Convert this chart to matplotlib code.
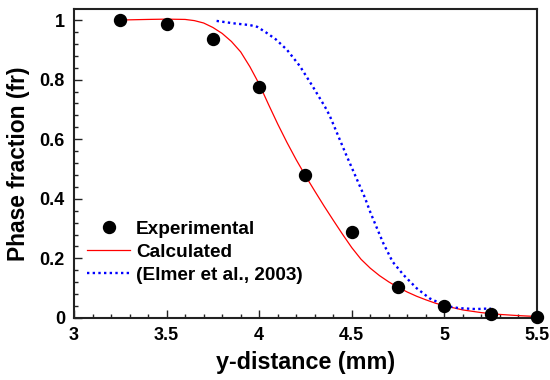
import matplotlib
matplotlib.use("Agg")
import matplotlib.pyplot as plt
from matplotlib.ticker import MultipleLocator, FormatStrFormatter

plt.rcParams['font.family'] = ['Liberation Sans', 'DejaVu Sans']
plt.rcParams['font.weight'] = 'bold'

# Experimental points
exp_x = [3.25, 3.5, 3.75, 4.0, 4.25, 4.5, 4.75, 5.0, 5.25, 5.5]
exp_y = [1.0, 0.987, 0.936, 0.776, 0.481, 0.288, 0.104, 0.040, 0.013, 0.003]

# Calculated curve
calc_x = [3.25, 3.4, 3.5, 3.6, 3.65, 3.7, 3.75, 3.8, 3.85, 3.9, 3.95, 4.0, 4.05,
          4.1, 4.15, 4.2, 4.25, 4.3, 4.35, 4.4, 4.45, 4.5, 4.55, 4.6, 4.65, 4.7,
          4.75, 4.8, 4.85, 4.9, 4.95, 5.0, 5.1, 5.2, 5.3, 5.4, 5.5]
calc_y = [1.0, 1.002, 1.003, 1.002, 0.998, 0.99, 0.975, 0.955, 0.928, 0.893, 0.843,
          0.785, 0.717, 0.651, 0.589, 0.531, 0.477, 0.426, 0.376, 0.328, 0.281,
          0.236, 0.197, 0.167, 0.142, 0.121, 0.103, 0.087, 0.073, 0.061, 0.05, 0.041,
          0.027, 0.018, 0.012, 0.008, 0.005]

# Elmer et al., 2003
elmer_x = [3.77, 3.86, 3.95, 3.99, 4.04, 4.09, 4.15, 4.22, 4.29, 4.355, 4.38,
           4.47, 4.57, 4.6, 4.63, 4.67, 4.72, 4.78, 4.85, 4.92, 5.01, 5.08,
           5.17, 5.25]
elmer_y = [0.997, 0.989, 0.983, 0.977, 0.957, 0.935, 0.90, 0.845, 0.776, 0.709,
           0.68, 0.547, 0.405, 0.355, 0.31, 0.251, 0.189, 0.144, 0.100, 0.066,
           0.040, 0.033, 0.030, 0.032]

x_ticks = [3, 3.5, 4, 4.5, 5, 5.5]
y_ticks = [0, 0.2, 0.4, 0.6, 0.8, 1]

fig = plt.figure(figsize=(5.5, 3.8), dpi=100)
ax = fig.add_axes([74/550, 62/380, 463/550, 309/380])

ax.plot(calc_x, calc_y, color='red', lw=0.9, label='Calculated', zorder=3)
ax.plot(elmer_x, elmer_y, color='blue', lw=1.7, linestyle=(0, (1, 1.4)),
        dash_capstyle='butt', label='(Elmer et al., 2003)', zorder=3)
ax.plot(exp_x, exp_y, 'o', color='black', ms=8.6, label='Experimental',
        clip_on=False, zorder=4)

ax.set_xlim(3, 5.5)
ax.set_ylim(0, 1.037)
ax.set_xticks(x_ticks)
ax.set_yticks(y_ticks)
ax.xaxis.set_major_formatter(FormatStrFormatter('%g'))
ax.yaxis.set_major_formatter(FormatStrFormatter('%g'))
ax.xaxis.set_minor_locator(MultipleLocator(0.1))
ax.yaxis.set_minor_locator(MultipleLocator(0.04))
ax.tick_params(which='both', direction='in', top=False, right=False,
               width=1.0, color='#222')
ax.tick_params(which='major', length=5.8, labelsize=13, pad=6.5)
ax.tick_params(which='minor', length=2.9)
for lab in ax.get_xticklabels() + ax.get_yticklabels():
    lab.set_fontweight('bold')

for s in ax.spines.values():
    s.set_linewidth(1.5)
    s.set_color('#222')

ax.set_xlabel('y-distance (mm)', fontsize=16.8, fontweight='bold', labelpad=5)
ax.set_ylabel('Phase fraction (fr)', fontsize=16.4, fontweight='bold', labelpad=7)

handles, labels = ax.get_legend_handles_labels()
order = [2, 0, 1]
leg = ax.legend([handles[i] for i in order], [labels[i] for i in order],
                loc='center left', bbox_to_anchor=(12.7/463, 0.213),
                frameon=False, borderpad=0, borderaxespad=0, numpoints=1,
                handlelength=2.3, handletextpad=0.3, labelspacing=0.3,
                prop={'size': 13.7, 'weight': 'bold'})

fig.savefig('out.png', dpi=100)
